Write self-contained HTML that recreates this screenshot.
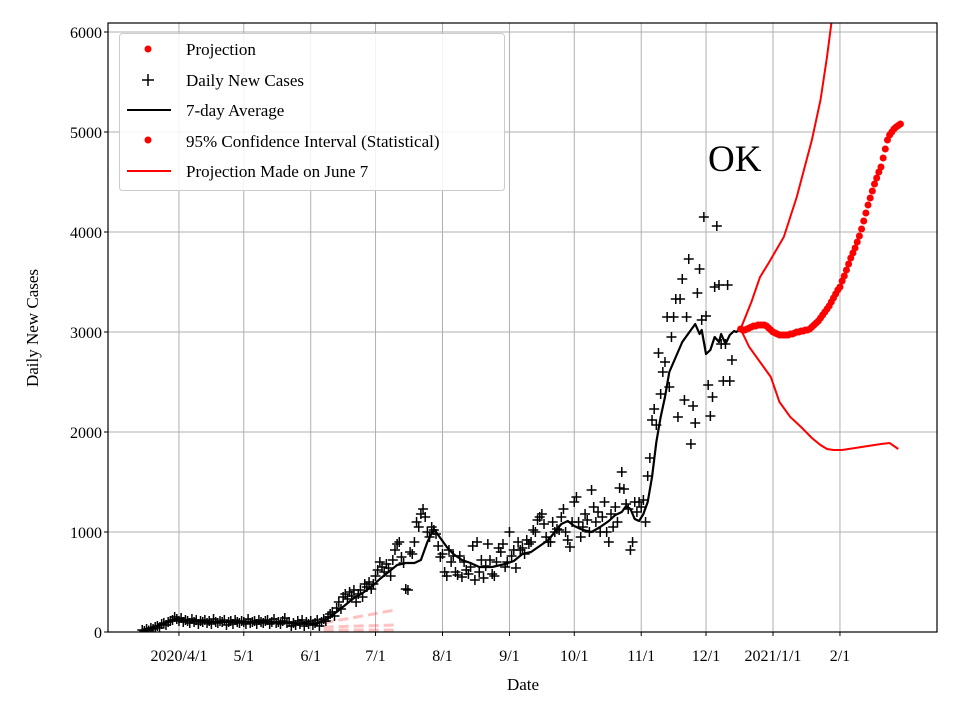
<!DOCTYPE html>
<html><head><meta charset="utf-8"><style>
body{margin:0;background:#fff;}
svg{display:block;font-family:"Liberation Serif","DejaVu Serif",serif;}
</style></head><body>
<svg id="chart" width="960" height="720" viewBox="0 0 960 720">
<rect width="960" height="720" fill="#fff"/>
<g id="grid"></g>
<g id="marks"></g>
<rect x="108" y="23" width="829" height="609" fill="none" stroke="#000" stroke-width="1.2"/>
<g id="ticks"></g>
<text x="708" y="171" font-size="37">OK</text>
<text x="523" y="690" font-size="17" text-anchor="middle">Date</text>
<text transform="translate(38,328) rotate(-90)" font-size="17" text-anchor="middle">Daily New Cases</text>
<g>
<rect x="119.5" y="33.5" width="385" height="157" rx="3" fill="#fff" fill-opacity="0.85" stroke="#ccc"/>
<g><circle cx="148" cy="49" r="3.5" fill="red"/><text x="186" y="55" font-size="17">Projection</text></g>
<g><path d="M142 80h12M148 74v12" stroke="#000" stroke-width="1.5"/><text x="186" y="86" font-size="17">Daily New Cases</text></g>
<g><path d="M127 110h44" stroke="#000" stroke-width="2"/><text x="186" y="116" font-size="17">7-day Average</text></g>
<g><circle cx="148" cy="140" r="3.5" fill="red"/><text x="186" y="147" font-size="17">95% Confidence Interval (Statistical)</text></g>
<g><path d="M127 171h44" stroke="red" stroke-width="2"/><text x="186" y="177" font-size="17">Projection Made on June 7</text></g>
</g>
</svg>
<script>
const xTickDays=[31,61,92,122,153,184,214,245,275,306,337];
const xTickLabels=["2020/4/1","5/1","6/1","7/1","8/1","9/1","10/1","11/1","12/1","2021/1/1","2/1"];
const yTicks=[0,1000,2000,3000,4000,5000,6000];
const dailyStart=14;
const dailyCases=[20,10,30,15,40,30,50,
60,40,80,90,70,100,110,
120,150,130,110,140,100,120,
110,90,130,100,120,80,110,
100,120,90,110,80,130,100,
90,110,100,120,70,100,110,
80,120,100,90,110,100,80,
130,90,100,110,80,120,100,
90,110,120,80,100,130,90,
100,80,110,140,90,100,60,
90,70,110,80,120,60,100,
80,110,70,90,120,60,100,
130,110,150,180,200,160,240,
300,230,350,380,330,400,360,
420,300,380,420,350,480,450,
500,430,480,560,620,700,650,
600,680,640,560,720,820,880,
900,750,690,430,420,800,780,
900,1100,1050,1180,1230,1150,1000,
950,1050,1020,980,860,750,780,
600,560,820,700,760,600,570,
760,550,700,620,580,650,860,
520,900,600,720,540,660,880,
720,580,560,700,840,800,880,
650,700,1000,760,820,640,900,
820,840,780,920,880,900,1020,
1000,1120,1150,1180,1080,950,900,
900,1100,1000,1030,1020,1150,1230,
1000,920,850,1100,1300,1350,1100,
950,1050,1180,1120,1000,1420,1250,
1100,1200,1000,1150,1300,1000,900,
1180,1050,1250,1100,1440,1600,1430,
1280,1230,820,900,1300,1200,1300,
1250,1320,1100,1560,1740,2120,2230,
2070,2790,2380,2600,2700,3150,2450,
2950,3150,3330,2150,3330,3530,2320,
3150,3730,1880,2260,2090,3390,3630,
3120,4150,3160,2470,2160,2350,3450,
4060,3470,2880,2510,2880,3470,2510,2720];
const avgDays=[14,18,22,26,29,32,40,50,60,70,80,88,93,97,100,104,108,112,116,120,124,128,132,136,140,143,146,149,152,155,158,162,166,170,176,182,186,190,194,198,202,205,208,211,214,218,222,226,230,233,236,238,240,242,244,246,248,250,252,254,256,258,260,262,264,266,268,270,272,273,275,277,279,281,282,284,286,288,289,291];
const avgValues=[20,40,70,100,130,125,105,100,100,100,95,85,80,100,140,200,270,340,390,450,530,600,670,690,690,720,900,1030,940,850,780,720,690,650,650,680,710,780,800,860,920,1000,1080,1110,1060,1020,1000,1050,1110,1170,1200,1260,1230,1130,1110,1180,1300,1550,1900,2150,2350,2600,2700,2800,2900,2960,3020,3080,2980,3020,2780,2820,2950,2900,2980,2880,2970,3010,3000,3030];
const projStart=291;
const projValues=[3030,3020,3020,3030,3040,3050,3060,3060,3070,3070,
3070,3070,3060,3040,3020,3000,2990,2980,2970,2970,
2970,2970,2970,2980,2980,2990,3000,3000,3010,3010,
3020,3020,3030,3050,3070,3090,3110,3140,3170,3200,
3230,3260,3300,3340,3380,3420,3450,3510,3560,3620,
3680,3740,3790,3840,3900,3960,4030,4110,4190,4270,
4340,4410,4480,4540,4600,4650,4740,4830,4920,4970,
5000,5030,5050,5065,5080];
const upperDays=[291,296,300,304,311,317,324,328,331,334];
const upperValues=[3030,3300,3550,3690,3950,4350,4920,5320,5750,6250];
const lowerDays=[291,295,300,305,309,314,319,324,328,331,334,338,344,350,356,360,364];
const lowerValues=[3030,2850,2700,2550,2300,2150,2050,1940,1870,1830,1820,1820,1840,1860,1880,1890,1830];
const juneDays=[98,131];
const juneUpper=[90,220];
const juneMid=[50,70];
const juneLow=[20,20];

const NS="http://www.w3.org/2000/svg";
const L=108,R=937,T=23,B=632;
function xs(d){return 112+(d)*2.1601;}
function ys(v){return B-v*0.1;}
function el(tag,attrs,parent){const e=document.createElementNS(NS,tag);for(const k in attrs)e.setAttribute(k,attrs[k]);parent.appendChild(e);return e;}
const grid=document.getElementById('grid'),marks=document.getElementById('marks'),ticks=document.getElementById('ticks');
xTickDays.forEach((d,i)=>{
  const x=xs(d);
  const g=el('line',{x1:x,x2:x,y1:T,y2:B,stroke:'#b0b0b0','stroke-width':1},grid);
  
  
  const t=el('line',{x1:x,x2:x,y1:B,y2:B+4,stroke:'#000'},ticks);
  
  
  const lb=el('text',{x:x,y:B+29,'font-size':16,'text-anchor':'middle'},ticks);
  lb.textContent=xTickLabels[i];
  
  
});
yTicks.forEach(v=>{
  const y=ys(v);
  const g=el('line',{x1:L,x2:R,y1:y,y2:y,stroke:'#b0b0b0','stroke-width':1},grid);
  
  
  const t=el('line',{x1:L-4,x2:L,y1:y,y2:y,stroke:'#000'},ticks);
  
  
  const lb=el('text',{x:L-6,y:y+6,'font-size':16,'text-anchor':'end'},ticks);
  lb.textContent=String(v);
  
  
});
const cp=el('clipPath',{id:'clip'},marks);el('rect',{x:L,y:T,width:R-L,height:B-T},cp);
const m=el('g',{'clip-path':'url(#clip)'},marks);
function line(ds,vs,attrs,name){
  const p=el('polyline',Object.assign({points:ds.map((d,i)=>xs(d)+','+ys(vs[i])).join(' '),fill:'none'},attrs),m);
  
  
}
[[juneUpper,'june7-upper'],[juneMid,'june7-projection'],[juneLow,'june7-lower']].forEach(([vs,n])=>line(juneDays,vs,{stroke:'rgba(255,80,80,0.35)','stroke-width':3,'stroke-dasharray':'10,5'},n));
dailyCases.forEach((v,i)=>{
  const x=xs(dailyStart+i),y=ys(v);
  const p=el('path',{d:`M${x-5} ${y}h10M${x} ${y-5}v10`,stroke:'#000','stroke-width':1.5},m);
  
  
});
line(avgDays,avgValues,{stroke:'#000','stroke-width':2.2,'stroke-linejoin':'round'},'seven-day-average');
line(upperDays,upperValues,{stroke:'red','stroke-width':2},'ci-upper');
line(lowerDays,lowerValues,{stroke:'red','stroke-width':2},'ci-lower');
projValues.forEach((v,i)=>{
  const c=el('circle',{cx:xs(projStart+i),cy:ys(v),r:3.5,fill:'red'},m);
  
  
});
</script>
</body></html>
